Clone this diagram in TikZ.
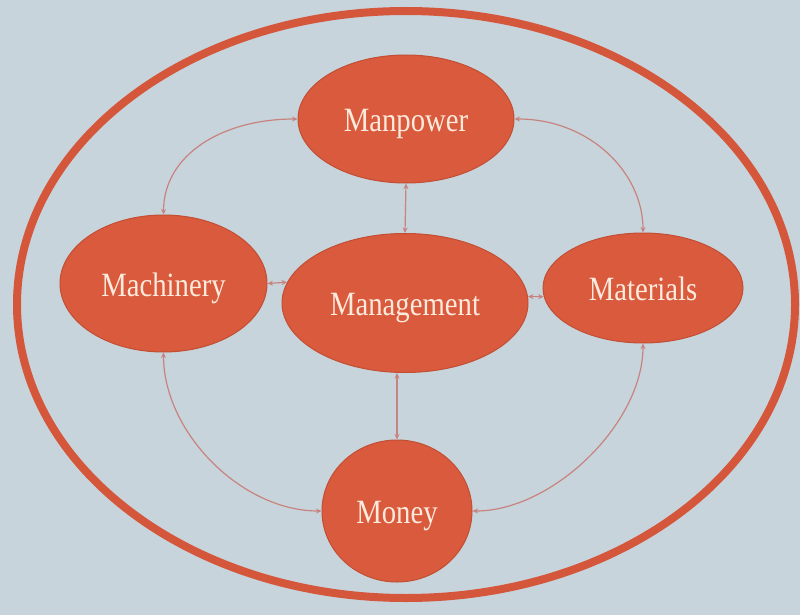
\documentclass[tikz,border=0pt]{standalone}
\usepackage{fontspec}
\setmainfont{Liberation Serif}[FakeStretch=0.845]
\usetikzlibrary{shapes.geometric,arrows.meta}
\definecolor{bg}{HTML}{C8D4DC}
\definecolor{nodefill}{HTML}{D95A3C}
\definecolor{nodeedge}{HTML}{C24E34}
\definecolor{ringc}{HTML}{D5573B}
\definecolor{linkc}{HTML}{C7837E}
\definecolor{txt}{HTML}{FCEADC}
\begin{document}
\begin{tikzpicture}[x=1pt,y=-1pt,
  blob/.style={ellipse, fill=nodefill, draw=nodeedge, line width=1pt, inner sep=0pt,
    text=txt, font=\fontsize{34}{37}\selectfont, text height=25pt, text depth=0pt},
  linkline/.style={draw=linkc, line width=1.2pt,
    {Stealth[length=5.5pt,width=5pt]}-{Stealth[length=5.5pt,width=5pt]}}]
\fill[bg] (0,0) rectangle (800,615);
\useasboundingbox (0,0) rectangle (800,615);
\draw[ringc, line width=8pt] (406,304.5) ellipse [x radius=389pt, y radius=293.5pt];

\node[blob, minimum width=216pt, minimum height=128pt] (mp) at (406,119) {Manpower};
\node[blob, minimum width=207pt, minimum height=137pt] (mc) at (163.5,283.5) {Machinery};
\node[blob, minimum width=246pt, minimum height=139pt] (mg) at (405,303) {Management};
\node[blob, minimum width=200pt, minimum height=110pt] (mt) at (643,288) {Materials};
\node[blob, minimum width=150pt, minimum height=142pt] (mo) at (397,511) {Money};

\draw[linkline] (mp.south) -- (mg.north);
\draw[linkline] (mo.north |- mg.south) -- (mo.north);
\draw[linkline] (mg.170) -- (mc.east);
\draw[linkline] (mg.3) -- (mt.185);
\draw[linkline] (mp.west) .. controls +(-75,0) and +(0,-60) .. (mc.north);
\draw[linkline] (mp.east) .. controls +(75,0) and +(0,-60) .. (mt.north);
\draw[linkline] (mc.south) .. controls +(0,80) and +(-80,0) .. (mo.west);
\draw[linkline] (mt.south) .. controls +(0,80) and +(80,0) .. (mo.east);
\end{tikzpicture}
\end{document}
